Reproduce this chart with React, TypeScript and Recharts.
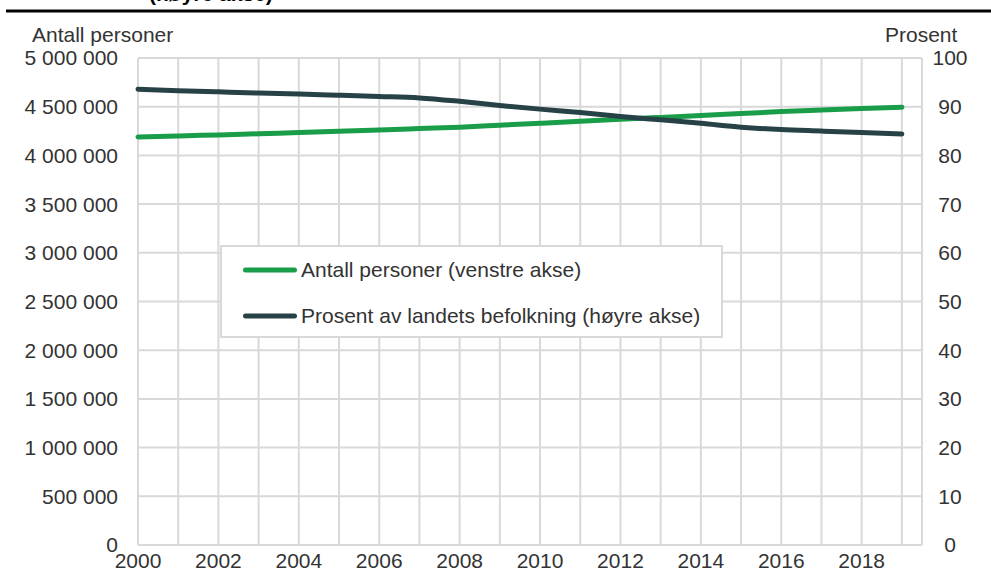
import { LineChart, Line, XAxis, YAxis, CartesianGrid, Legend } from 'recharts'

const years = [2000, 2001, 2002, 2003, 2004, 2005, 2006, 2007, 2008, 2009, 2010, 2011, 2012, 2013, 2014, 2015, 2016, 2017, 2018, 2019]
const antallPersoner = [
  4190000, 4200000, 4210000, 4222000, 4235000, 4247000, 4260000, 4275000, 4290000, 4310000,
  4330000, 4350000, 4370000, 4390000, 4410000, 4430000, 4450000, 4466000, 4481000, 4495000,
]
const prosentAvBefolkning = [
  93.6, 93.3, 93.05, 92.8, 92.6, 92.35, 92.1, 91.8, 91.1, 90.25,
  89.5, 88.8, 88.0, 87.3, 86.6, 85.8, 85.3, 85.0, 84.7, 84.4,
]
const leftTicks = [0, 500000, 1000000, 1500000, 2000000, 2500000, 3000000, 3500000, 4000000, 4500000, 5000000]
const rightTicks = [0, 10, 20, 30, 40, 50, 60, 70, 80, 90, 100]
const xTicks = [...years, 2019.5]

const GREEN = '#1a9d49'
const DARK = '#274247'
const GRID = '#d9d9d9'
const TEXT = '#333333'

const data = years.map((year, i) => ({
  year,
  antall: antallPersoner[i],
  prosent: prosentAvBefolkning[i],
}))

const fmtThousands = (v: number) => String(v).replace(/\B(?=(\d{3})+(?!\d))/g, ' ')

function LegendBox({ payload }: any) {
  return (
    <div
      style={{
        width: 503,
        height: 93,
        boxSizing: 'border-box',
        border: `2px solid ${GRID}`,
        background: '#fff',
        fontSize: 21,
        color: TEXT,
      }}
    >
      {(payload || []).map((entry: any) => (
        <div key={entry.value} style={{ display: 'flex', alignItems: 'center', height: 46 }}>
          <svg width={54} height={10} style={{ marginLeft: 21, marginRight: 4 }}>
            <line x1={2.5} x2={51.5} y1={5} y2={5} stroke={entry.color} strokeWidth={5} strokeLinecap="round" />
          </svg>
          <span>{entry.value}</span>
        </div>
      ))}
    </div>
  )
}

export default function App() {
  return (
    <div
      style={{
        position: 'absolute',
        left: 0,
        top: 0,
        width: 991,
        height: 581,
        background: '#fff',
        fontFamily: '"Liberation Sans", Arial, sans-serif',
      }}
    >
      <LineChart width={991} height={581} data={data} margin={{ top: 58, right: 0, bottom: 0, left: 0 }}>
        <CartesianGrid stroke={GRID} strokeWidth={2} yAxisId="left" />
        <XAxis
          dataKey="year"
          type="number"
          domain={[2000, 2019.5]}
          ticks={xTicks}
          interval={0}
          tickFormatter={(v: number) => (v % 2 === 0 ? String(v) : '')}
          tickSize={0}
          tickMargin={8}
          tickLine={false}
          axisLine={false}
          height={36}
          tick={{ fill: TEXT, fontSize: 21 }}
        />
        <YAxis
          yAxisId="left"
          width={138}
          domain={[0, 5000000]}
          ticks={leftTicks}
          interval={0}
          tickFormatter={fmtThousands}
          tickSize={0}
          tickMargin={20}
          tickLine={false}
          axisLine={false}
          tick={{ fill: TEXT, fontSize: 21 }}
        />
        <YAxis
          yAxisId="right"
          orientation="right"
          width={69}
          domain={[0, 100]}
          ticks={rightTicks}
          interval={0}
          tickSize={0}
          tickMargin={28}
          tickLine={false}
          axisLine={false}
          tick={{ fill: TEXT, fontSize: 21, textAnchor: 'middle' }}
        />
        <Legend
          layout="horizontal"
          verticalAlign="middle"
          align="center"
          wrapperStyle={{ left: 220, top: 245, width: 503, height: 93 }}
          content={<LegendBox />}
        />
        <Line
          yAxisId="left"
          type="monotone"
          dataKey="antall"
          name="Antall personer (venstre akse)"
          stroke={GREEN}
          strokeWidth={5}
          strokeLinecap="round"
          dot={false}
          isAnimationActive={false}
        />
        <Line
          yAxisId="right"
          type="monotone"
          dataKey="prosent"
          name="Prosent av landets befolkning (høyre akse)"
          stroke={DARK}
          strokeWidth={5}
          strokeLinecap="round"
          dot={false}
          isAnimationActive={false}
        />
      </LineChart>
      <svg
        width={991}
        height={581}
        style={{ position: 'absolute', left: 0, top: 0, pointerEvents: 'none' }}
      >
        <text x={149} y={1} fontSize={21} fontWeight="bold" fill="#000">(høyre akse)</text>
        <line x1={6} x2={991} y1={11} y2={11} stroke="#000" strokeWidth={3} />
        <text x={32} y={42} fontSize={21} fill={TEXT}>Antall personer</text>
        <text x={885} y={42} fontSize={21} fill={TEXT}>Prosent</text>
      </svg>
    </div>
  )
}
